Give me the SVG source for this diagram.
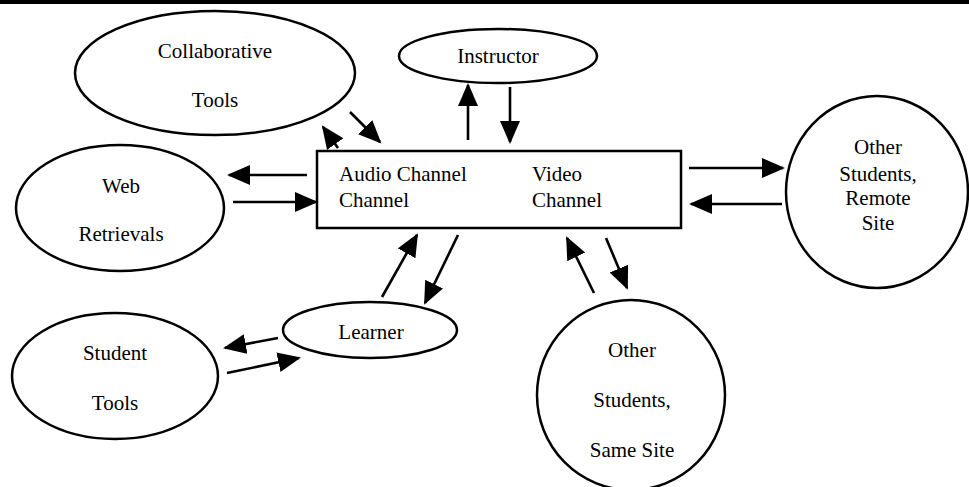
<svg xmlns="http://www.w3.org/2000/svg" width="969" height="487" viewBox="0 0 969 487">
<style>
.n{fill:none;stroke:#000;stroke-width:2.5}
.t{font-family:"Liberation Serif","Times New Roman",serif;font-size:21px;fill:#000;text-anchor:middle}
.tl{font-family:"Liberation Serif","Times New Roman",serif;font-size:21px;fill:#000}
.c{stroke:#000;stroke-width:2.6;fill:none;marker-end:url(#ah)}
</style>
<defs>
<marker id="ah" markerUnits="userSpaceOnUse" markerWidth="24" markerHeight="22" refX="21" refY="10" orient="auto" viewBox="0 0 24 22">
<path d="M0,0 L23,10 L0,20 z" fill="#000"/>
</marker>
</defs>
<rect x="0" y="0" width="969" height="4" fill="#000"/>
<g id="collaborative-tools">
<ellipse class="n" cx="215" cy="73" rx="140" ry="62"/>
<text class="t" x="215" y="58">Collaborative</text>
<text class="t" x="215" y="107">Tools</text>
</g>
<g id="instructor">
<ellipse class="n" cx="498" cy="56" rx="99" ry="27"/>
<text class="t" x="498" y="63">Instructor</text>
</g>
<g id="channels">
<rect class="n" x="317" y="151" width="364" height="77"/>
<text class="tl" x="339" y="181">Audio Channel</text>
<text class="tl" x="339" y="207">Channel</text>
<text class="tl" x="532" y="181">Video</text>
<text class="tl" x="532" y="207">Channel</text>
</g>
<g id="web-retrievals">
<ellipse class="n" cx="120" cy="208" rx="104" ry="63"/>
<text class="t" x="121" y="193">Web</text>
<text class="t" x="121" y="241">Retrievals</text>
</g>
<g id="remote-site">
<ellipse class="n" cx="877" cy="192" rx="91" ry="96"/>
<text class="t" x="878" y="154">Other</text>
<text class="t" x="878" y="181">Students,</text>
<text class="t" x="878" y="205">Remote</text>
<text class="t" x="878" y="230">Site</text>
</g>
<g id="learner">
<ellipse class="n" cx="370" cy="330" rx="87" ry="28"/>
<text class="t" x="371" y="339">Learner</text>
</g>
<g id="student-tools">
<ellipse class="n" cx="115" cy="376" rx="103" ry="63"/>
<text class="t" x="115" y="360">Student</text>
<text class="t" x="115" y="410">Tools</text>
</g>
<g id="same-site">
<ellipse class="n" cx="631" cy="395" rx="94" ry="95"/>
<text class="t" x="632" y="357">Other</text>
<text class="t" x="632" y="407">Students,</text>
<text class="t" x="632" y="457">Same Site</text>
</g>
<g id="connectors">
<line class="c" x1="338" y1="148" x2="323" y2="127"/>
<line class="c" x1="350" y1="112" x2="380" y2="142"/>
<line class="c" x1="468" y1="140" x2="468" y2="85"/>
<line class="c" x1="510" y1="87" x2="510" y2="142"/>
<line class="c" x1="307" y1="175" x2="229" y2="175"/>
<line class="c" x1="233" y1="202" x2="316" y2="202"/>
<line class="c" x1="689" y1="168" x2="783" y2="168"/>
<line class="c" x1="782" y1="204" x2="691" y2="204"/>
<line class="c" x1="382" y1="297" x2="417" y2="235"/>
<line class="c" x1="458" y1="235" x2="425" y2="303"/>
<line class="c" x1="594" y1="293" x2="567" y2="238"/>
<line class="c" x1="606" y1="238" x2="627" y2="288"/>
<line class="c" x1="278" y1="338" x2="225" y2="348"/>
<line class="c" x1="227" y1="373" x2="299" y2="358"/>
</g>
</svg>
